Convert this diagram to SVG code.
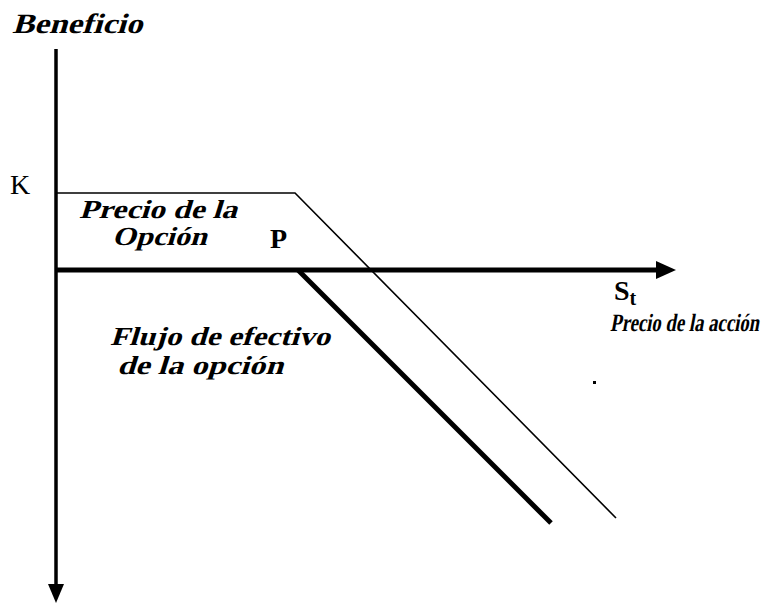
<svg xmlns="http://www.w3.org/2000/svg" width="766" height="605" viewBox="0 0 766 605">
<style>
.t{font-family:"Liberation Serif","Times New Roman",serif;font-weight:bold;fill:#000}
.r{font-family:"Liberation Serif","Times New Roman",serif;fill:#000}
.thin{stroke:#000;stroke-width:1.6;fill:none}
.thick{stroke:#000;stroke-width:5;fill:none}
</style>
<rect width="766" height="605" fill="#fff"/>
<g id="connectors">
<line x1="56" y1="49" x2="56" y2="585" stroke="#000" stroke-width="3.5"/>
<polygon points="48,584 64,584 56,603" fill="#000"/>
<line x1="56" y1="270" x2="660" y2="270" class="thick"/>
<polygon points="656,261 676,270 656,279" fill="#000"/>
<polyline points="56,193 295,193 616,518" class="thin"/>
<polyline points="298,270 551,523" class="thick"/>
</g>
<g id="labels">
<text class="t" transform="translate(12,33) scale(1.18,1) skewX(-14)" font-size="28">Beneficio</text>
<text class="r" x="10" y="194" font-size="28">K</text>
<text class="t" transform="translate(79,218) scale(1.22,1) skewX(-14)" font-size="26">Precio de la</text>
<text class="t" transform="translate(112,245) scale(1.17,1) skewX(-14)" font-size="26">Opción</text>
<text class="r" x="270" y="248" font-size="28" font-weight="bold">P</text>
<text class="r" x="614" y="300" font-size="28" font-weight="bold">S<tspan font-size="20" dy="5">t</tspan></text>
<text class="t" transform="translate(610,331) scale(0.75,1) skewX(-14)" font-size="25">Precio de la acción</text>
<text class="t" transform="translate(110,345) scale(1.2,1) skewX(-14)" font-size="26">Flujo de efectivo</text>
<text class="t" transform="translate(117,374) scale(1.25,1) skewX(-14)" font-size="26">de la opción</text>
</g>
<rect x="593" y="381" width="3" height="3" fill="#000"/>
</svg>
